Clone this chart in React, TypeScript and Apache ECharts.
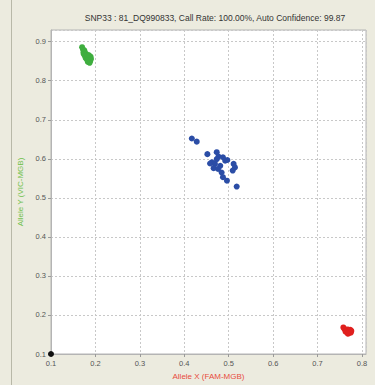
import React, { useEffect, useRef } from "react";
import * as echarts from "echarts";

const titleText = "SNP33 : 81_DQ990833, Call Rate: 100.00%, Auto Confidence: 99.87";
const xName = "Allele X (FAM-MGB)";
const yName = "Allele Y (VIC-MGB)";

const greenPts: [number, number][] = [
  [0.170, 0.886], [0.172, 0.880], [0.175, 0.878], [0.173, 0.872], [0.178, 0.870],
  [0.180, 0.866], [0.176, 0.864], [0.183, 0.862], [0.185, 0.860], [0.181, 0.857],
  [0.186, 0.853], [0.188, 0.850], [0.183, 0.848], [0.190, 0.856], [0.178, 0.858],
  [0.187, 0.846], [0.182, 0.852], [0.174, 0.868], [0.189, 0.862], [0.185, 0.866],
];

const bluePts: [number, number][] = [
  [0.417, 0.652], [0.428, 0.644], [0.452, 0.612], [0.473, 0.617], [0.477, 0.606],
  [0.462, 0.591], [0.469, 0.587], [0.466, 0.576], [0.481, 0.582], [0.492, 0.595],
  [0.497, 0.597], [0.484, 0.565], [0.487, 0.553], [0.496, 0.544], [0.511, 0.587],
  [0.514, 0.578], [0.509, 0.570], [0.518, 0.529], [0.473, 0.599], [0.458, 0.588],
  [0.476, 0.574], [0.487, 0.604],
];

const redPts: [number, number][] = [
  [0.758, 0.168], [0.760, 0.165], [0.762, 0.162], [0.765, 0.160], [0.768, 0.163],
  [0.770, 0.160], [0.772, 0.157], [0.766, 0.156], [0.774, 0.162], [0.775, 0.155],
  [0.770, 0.153], [0.763, 0.157], [0.776, 0.159], [0.768, 0.152],
];

const blackPts: [number, number][] = [[0.1, 0.1]];

export default function App() {
  const ref = useRef<HTMLDivElement>(null);
  useEffect(() => {
    document.body.style.margin = "0";
    const chart = echarts.init(ref.current!, null, { renderer: "svg" });
    const font = "Arial";
    const axisLabel = { color: "#555", fontSize: 7.5, fontFamily: font, margin: 5 };
    const splitLine = { show: true, lineStyle: { color: "#c8c8c8", type: [2, 2] as any, width: 1 } };
    const mk = (data: [number, number][], color: string) => ({
      type: "scatter",
      data,
      symbolSize: 6,
      clip: false,
      itemStyle: { color, opacity: 1 },
    });
    chart.setOption({
      animation: false,
      backgroundColor: "#ecebdf",
      title: {
        text: titleText,
        left: 210,
        textAlign: "center",
        top: 8,
        textStyle: { fontSize: 8.5, fontWeight: "normal", color: "#333", fontFamily: font },
      },
      graphic: [
        { type: "line", shape: { x1: 11.5, y1: 0, x2: 11.5, y2: 385 }, style: { stroke: "#b8b8a8", lineWidth: 1 } },
      ],
      grid: {
        left: 51,
        right: 9,
        top: 30,
        bottom: 29.5,
        show: true,
        backgroundColor: "#ffffff",
        borderColor: "#b4b4b4",
        borderWidth: 1,
      },
      xAxis: {
        type: "value",
        min: 0.1,
        max: 0.809,
        interval: 0.1,
        name: xName,
        nameLocation: "middle",
        nameGap: 18,
        nameTextStyle: { color: "#e84c3d", fontSize: 8, fontFamily: font },
        axisLine: { show: true, lineStyle: { color: "#b4b4b4" } },
        axisTick: { show: true, length: 3, lineStyle: { color: "#999" } },
        axisLabel: { ...axisLabel, showMaxLabel: false, formatter: (v: number) => v.toFixed(1) },
        splitLine,
      },
      yAxis: {
        type: "value",
        min: 0.1,
        max: 0.93,
        interval: 0.1,
        name: yName,
        nameLocation: "middle",
        nameGap: 27,
        nameRotate: 90,
        nameTextStyle: { color: "#6cc04a", fontSize: 8, fontFamily: font },
        axisLine: { show: true, lineStyle: { color: "#b4b4b4" } },
        axisTick: { show: true, length: 3, lineStyle: { color: "#999" } },
        axisLabel: { ...axisLabel, showMaxLabel: false, formatter: (v: number) => v.toFixed(1) },
        splitLine,
      },
      series: [
        mk(greenPts, "#3fae3f"),
        mk(bluePts, "#2b4da6"),
        mk(redPts, "#e0201e"),
        mk(blackPts, "#111111"),
      ],
    });
    return () => chart.dispose();
  }, []);
  return <div ref={ref} style={{ width: 375, height: 385 }} />;
}
